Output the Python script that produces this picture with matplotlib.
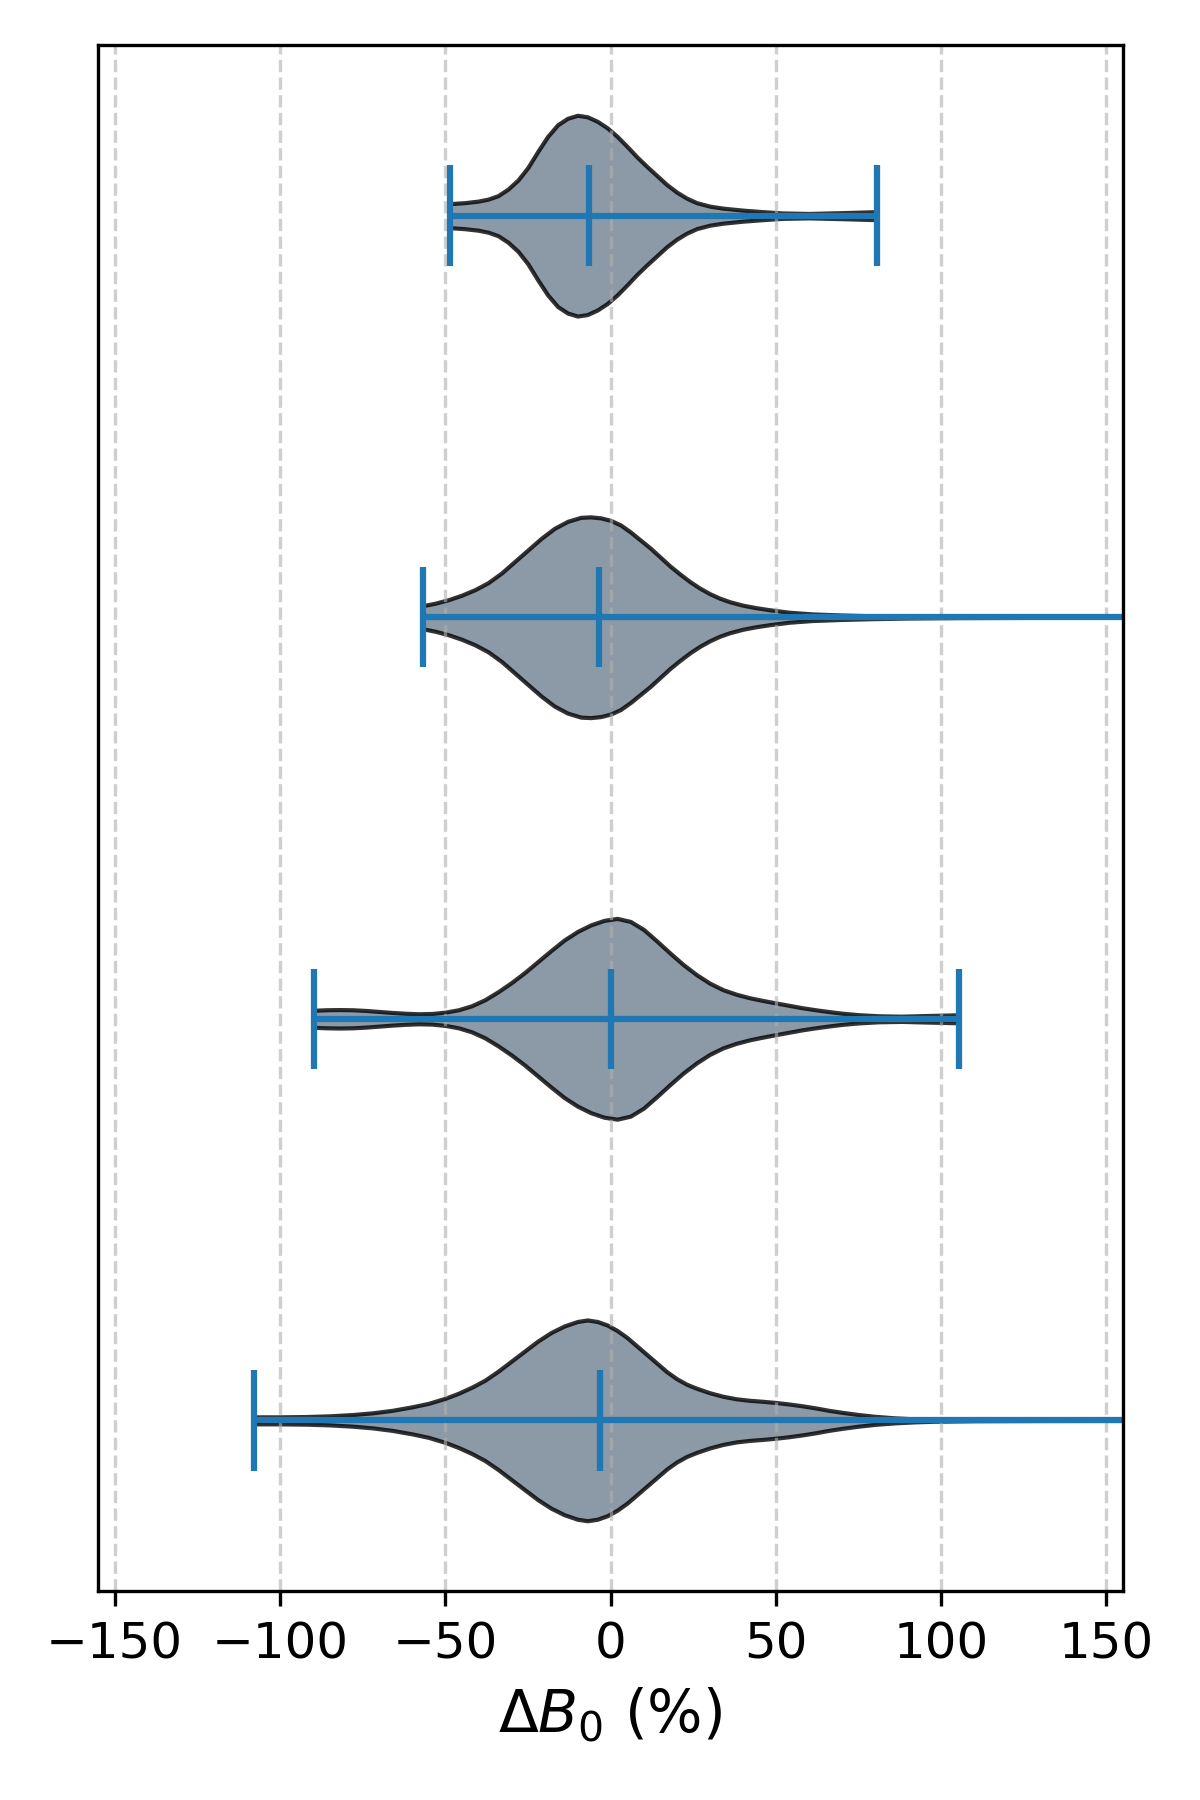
import matplotlib
matplotlib.use('Agg')
import matplotlib.pyplot as plt
import numpy as np

# violins listed top to bottom; density profiles (relative half-widths)
v1_x = [-48.5, -44, -40, -37, -34, -31, -28, -25, -22, -19, -16, -13, -10, -7, -4, -1, 2, 5, 8, 11, 14,
        17, 20, 23, 26, 30, 34, 40, 46, 52, 60, 70, 80.5]
v1_d = [0.12, 0.13, 0.145, 0.165, 0.20, 0.265, 0.355, 0.48, 0.64, 0.79, 0.905, 0.97, 1.0, 0.985, 0.94, 0.875,
        0.79, 0.69, 0.585, 0.49, 0.40, 0.31, 0.235, 0.175, 0.13, 0.095, 0.075, 0.055, 0.04, 0.027, 0.022,
        0.03, 0.04]
v1_stats = dict(min=-48.5, max=80.5, median=-6.5)

v2_x = [-56.8, -53, -49, -45, -41, -37, -33, -29, -25, -21, -17, -13, -9, -6, -3, 0, 3, 6, 9, 12, 15, 18,
        21, 24, 27, 30, 33, 36, 40, 44, 48, 54, 61, 70, 80, 90, 105, 125, 150, 170]
v2_d = [0.115, 0.14, 0.175, 0.22, 0.275, 0.345, 0.44, 0.555, 0.67, 0.785, 0.885, 0.955, 0.995, 1.0, 0.99,
        0.965, 0.92, 0.85, 0.77, 0.69, 0.60, 0.51, 0.43, 0.355, 0.29, 0.235, 0.19, 0.155, 0.12, 0.095,
        0.075, 0.05, 0.033, 0.022, 0.014, 0.008, 0.004, 0.002, 0.001, 0.001]
v2_stats = dict(min=-56.8, max=170, median=-3.5)

v3_x = [-89.8, -86, -82, -78, -74, -70, -66, -62, -58, -54, -50, -46, -42, -38, -34, -30, -26, -22, -18,
        -14, -10, -6, -2, 2, 6, 10, 14, 18, 22, 26, 30, 34, 38, 42, 46, 50, 54, 58, 62, 66, 70, 75, 81,
        88, 95, 105.4]
v3_d = [0.085, 0.09, 0.092, 0.09, 0.083, 0.073, 0.063, 0.055, 0.05, 0.053, 0.066, 0.09, 0.13, 0.19,
        0.27, 0.36, 0.46, 0.57, 0.68, 0.785, 0.87, 0.935, 0.98, 1.0, 0.97, 0.89, 0.775, 0.655, 0.54, 0.44,
        0.355, 0.29, 0.245, 0.21, 0.183, 0.158, 0.134, 0.11, 0.09, 0.072, 0.056, 0.041, 0.03, 0.026,
        0.032, 0.04]
v3_stats = dict(min=-89.8, max=105.4, median=0.0)

v4_x = [-107.9, -100, -92, -85, -78, -72, -66, -60, -55, -50, -46, -42, -38, -34, -30, -26, -22, -18,
        -14, -10, -7, -4, -1, 2, 5, 8, 11, 14, 17, 20, 23, 26, 30, 34, 38, 42, 46, 50, 54, 58, 62, 66,
        70, 75, 80, 86, 92, 98, 110, 130, 155, 175]
v4_d = [0.035, 0.035, 0.038, 0.045, 0.058, 0.075, 0.10, 0.135, 0.17, 0.22, 0.27, 0.33, 0.40, 0.49,
        0.59, 0.69, 0.79, 0.875, 0.94, 0.985, 1.0, 0.985, 0.95, 0.895, 0.825, 0.74, 0.655, 0.57, 0.485, 0.415,
        0.36, 0.32, 0.275, 0.24, 0.215, 0.20, 0.19, 0.178, 0.163, 0.145, 0.124, 0.10, 0.08, 0.058, 0.04,
        0.025, 0.015, 0.009, 0.004, 0.002, 0.001, 0.001]
v4_stats = dict(min=-107.9, max=175, median=-3.2)

xticks = [-150, -100, -50, 0, 50, 100, 150]

profiles = [(v1_x, v1_d, v1_stats), (v2_x, v2_d, v2_stats),
            (v3_x, v3_d, v3_stats), (v4_x, v4_d, v4_stats)]
vpstats = []
for xs, ds, st in profiles:
    vpstats.append(dict(coords=np.array(xs), vals=np.array(ds), mean=st['median'],
                        median=st['median'], min=st['min'], max=st['max']))

fig, ax = plt.subplots(figsize=(4, 6), dpi=300)
fig.subplots_adjust(left=0.0817, right=0.9358, top=0.975, bottom=0.1161)

positions = np.arange(len(vpstats), 0, -1)
parts = ax.violin(vpstats, positions=positions, orientation='horizontal', widths=0.5,
                  showmeans=False, showextrema=True, showmedians=True)
for body in parts['bodies']:
    body.set_facecolor('slategray')
    body.set_edgecolor('black')
    body.set_linewidth(1.0)
    body.set_alpha(0.8)

ax.set_xlim(-155, 155)
ax.set_xticks(xticks)
ax.set_yticks([])
ax.tick_params(axis='x', labelsize=12)
ax.grid(axis='x', linestyle='--', alpha=0.6)
ax.set_xlabel(r'$\Delta B_0$ (%)', fontsize=14)

plt.savefig('out.png', dpi=300)
